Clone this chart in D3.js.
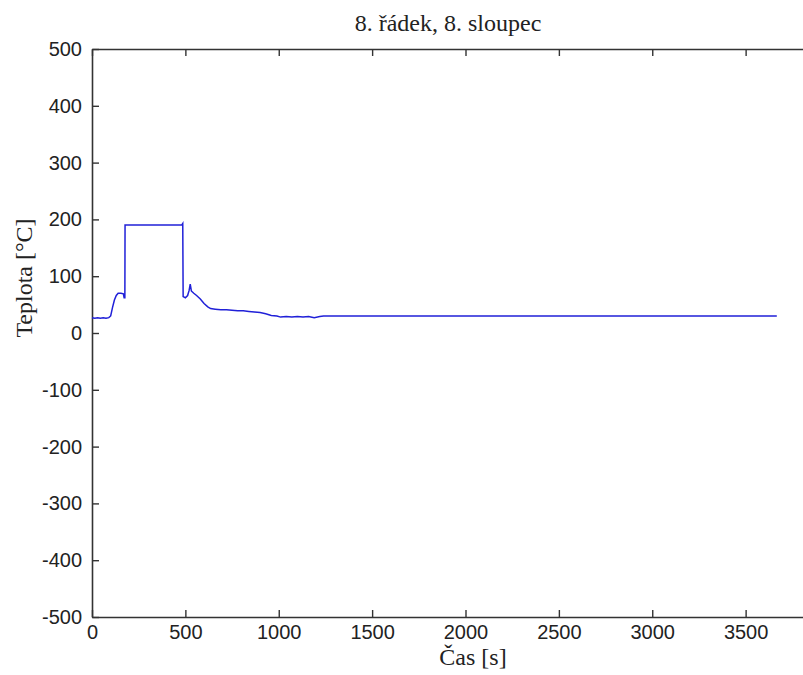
<!DOCTYPE html>
<html>
<head>
<meta charset="utf-8">
<script src="https://cdn.jsdelivr.net/npm/d3@7"></script>
<style>
  body { margin: 0; background: #fff; }
  svg { display: block; }
</style>
</head>
<body>
<svg id="chart" width="803" height="675"></svg>
<script>
// values
var timeValues = [0, 15, 30, 45, 60, 75, 90, 100, 110, 120, 130, 140, 155, 168, 172, 176,
  177, 300, 480, 486, 488, 500, 512, 520, 526, 532, 545, 560, 580, 600, 620, 635,
  660, 690, 720, 750, 780, 810, 840, 870, 900, 930, 960, 990, 1010, 1040, 1070,
  1100, 1130, 1160, 1190, 1220, 1240, 1500, 2000, 2500, 3000, 3500, 3667];
var tempValues = [27, 26, 27, 26, 27, 26, 27, 30, 45, 58, 66, 70, 70, 69, 62, 62,
  190, 190, 190, 193, 64, 62, 66, 75, 86, 74, 70, 66, 60, 52, 46, 43,
  42, 41, 41, 40, 39, 39, 38, 37, 36, 34, 31, 30, 28, 29, 28,
  29, 28, 29, 27, 29, 30, 30, 30, 30, 30, 30, 30];

var xTicks = [0, 500, 1000, 1500, 2000, 2500, 3000, 3500];
var yTicks = [-500, -400, -300, -200, -100, 0, 100, 200, 300, 400, 500];

var titleText = "8. řádek, 8. sloupec";
var xLabel = "Čas [s]";
var yLabel = "Teplota [°C]";

var margin = { left: 92, right: 839, top: 49, bottom: 617 };

var svg = d3.select("#chart");

var x = d3.scaleLinear().domain([0, 4000]).range([margin.left, margin.right]);
var y = d3.scaleLinear().domain([-500, 500]).range([margin.bottom, margin.top]);

var axisColor = "#333";
var fmt = function (d) { return String(d); }; // plain hyphen minus like the original

// bottom axis with labels
var gx = svg.append("g")
  .attr("transform", "translate(0," + margin.bottom + ")")
  .call(d3.axisBottom(x).tickValues(xTicks).tickFormat(fmt).tickSizeInner(-7).tickSizeOuter(0).tickPadding(8));

// top ticks
var gxTop = svg.append("g")
  .attr("transform", "translate(0," + margin.top + ")")
  .call(d3.axisTop(x).tickValues(xTicks).tickSizeInner(-7).tickSizeOuter(0).tickFormat(""));

// left axis with labels
var gy = svg.append("g")
  .attr("transform", "translate(" + margin.left + ",0)")
  .call(d3.axisLeft(y).tickValues(yTicks).tickFormat(fmt).tickSizeInner(-7).tickSizeOuter(0).tickPadding(10));

[gx, gxTop, gy].forEach(function (g) {
  g.select(".domain").attr("stroke", axisColor).attr("stroke-width", 1.6);
  g.selectAll(".tick line").attr("stroke", axisColor).attr("stroke-width", 1.4);
  g.selectAll(".tick text")
    .attr("fill", "#222")
    .attr("font-family", "'Liberation Sans', Arial, sans-serif")
    .attr("font-size", "20px");
});

// line
var line = d3.line()
  .x(function (d, i) { return x(timeValues[i]); })
  .y(function (d) { return y(d); });

svg.append("path")
  .datum(tempValues)
  .attr("d", line)
  .attr("fill", "none")
  .attr("stroke", "#2020d8")
  .attr("stroke-width", 1.5);

// title
svg.append("text")
  .attr("x", 448)
  .attr("y", 31)
  .attr("text-anchor", "middle")
  .attr("font-family", "'Liberation Serif', 'Times New Roman', serif")
  .attr("font-size", "24px")
  .attr("fill", "#222")
  .text(titleText);

// x label
svg.append("text")
  .attr("x", 473)
  .attr("y", 665)
  .attr("text-anchor", "middle")
  .attr("font-family", "'Liberation Serif', 'Times New Roman', serif")
  .attr("font-size", "24px")
  .attr("fill", "#222")
  .text(xLabel);

// y label
svg.append("text")
  .attr("transform", "translate(32,278) rotate(-90)")
  .attr("text-anchor", "middle")
  .attr("font-family", "'Liberation Serif', 'Times New Roman', serif")
  .attr("font-size", "24px")
  .attr("fill", "#222")
  .text(yLabel);
</script>
</body>
</html>
